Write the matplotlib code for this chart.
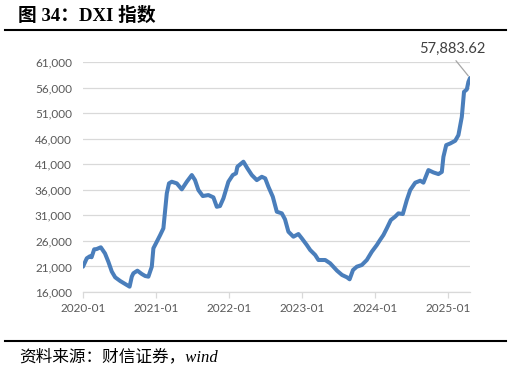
import matplotlib

matplotlib.use("Agg")
import matplotlib.pyplot as plt
import numpy as np
import pandas as pd
from matplotlib.lines import Line2D
from matplotlib.ticker import FuncFormatter

# DXI index, values
dates = [
    "2020-01-01", "2020-01-20", "2020-02-05", "2020-02-13", "2020-02-26", "2020-03-09",
    "2020-03-30", "2020-04-20", "2020-05-07", "2020-05-24", "2020-06-10", "2020-07-05",
    "2020-07-30", "2020-08-21", "2020-09-01", "2020-09-09", "2020-09-29", "2020-10-21",
    "2020-11-07", "2020-11-23", "2020-12-10", "2020-12-18", "2021-01-04", "2021-01-21",
    "2021-02-06", "2021-02-23", "2021-03-06", "2021-03-20", "2021-04-14", "2021-05-09",
    "2021-06-03", "2021-06-28", "2021-07-14", "2021-07-31", "2021-08-22", "2021-09-19",
    "2021-10-14", "2021-10-31", "2021-11-16", "2021-12-03", "2021-12-28", "2022-01-19",
    "2022-02-04", "2022-02-11", "2022-03-13", "2022-04-02", "2022-04-24", "2022-05-19",
    "2022-06-13", "2022-06-30", "2022-07-16", "2022-08-07", "2022-08-27", "2022-09-21",
    "2022-10-07", "2022-10-24", "2022-11-18", "2022-12-13", "2022-12-30", "2023-01-24",
    "2023-02-10", "2023-03-07", "2023-03-23", "2023-04-26", "2023-05-21", "2023-06-24",
    "2023-07-19", "2023-08-13", "2023-08-26", "2023-09-12", "2023-10-01", "2023-10-26",
    "2023-11-20", "2023-12-15", "2024-01-09", "2024-01-25", "2024-02-11", "2024-02-28",
    "2024-03-19", "2024-04-09", "2024-04-26", "2024-05-18", "2024-06-07", "2024-06-24",
    "2024-07-19", "2024-08-13", "2024-08-29", "2024-09-23", "2024-10-18", "2024-11-12",
    "2024-11-29", "2024-12-07", "2024-12-21", "2025-01-10", "2025-02-04", "2025-02-20",
    "2025-03-09", "2025-03-20", "2025-04-03", "2025-04-11", "2025-04-19",
]
dxi = [
    20950, 22600, 23000, 22800, 24350, 24400,
    24750, 23550, 21900, 20000, 18870, 18150,
    17560, 17040, 19000, 19660, 20170, 19520,
    19130, 19000, 20950, 24550, 25840, 27150,
    28460, 35300, 37260, 37580, 37260, 36090,
    37580, 38890, 37900, 35950, 34780, 34970,
    34520, 32680, 32820, 34320, 37580, 38890,
    39220, 40520, 41500, 40200, 38890, 37900,
    38550, 38240, 36600, 34640, 31710, 31390,
    30220, 27800, 26820, 27340, 26500, 25190,
    24210, 23240, 22260, 22260, 21610, 20170,
    19330, 18870, 18480, 20300, 20950, 21280,
    22260, 23880, 25190, 26170, 27150, 28460,
    30080, 30730, 31390, 31260, 34000, 35950,
    37390, 37780, 37400, 39860, 39400, 39080,
    39500, 42460, 44750, 45070, 45600, 46710,
    50290, 55180, 55640, 57130, 57883.62,
]
year_ticks = ["2020-01", "2021-01", "2022-01", "2023-01", "2024-01", "2025-01"]
y_ticks = [16000, 21000, 26000, 31000, 36000, 41000, 46000, 51000, 56000, 61000]

x = pd.to_datetime(dates)
tick_dates = pd.to_datetime([t + "-01" for t in year_ticks])

grey_text = "#595959"
grid_col = "#d9d9d9"

fig = plt.figure(figsize=(5.11, 3.74), dpi=100)
ax = fig.add_axes([0.1624, 0.2193, 0.7574, 0.6147])

ax.plot(x, dxi, color="#4a7ebb", lw=2.9, solid_capstyle="round", solid_joinstyle="round")

ax.set_ylim(y_ticks[0], y_ticks[-1])
ax.set_yticks(y_ticks)
ax.yaxis.set_major_formatter(FuncFormatter(lambda v, p: f"{v:,.0f}"))
ax.set_xlim(tick_dates[0], x[-1])
ax.set_xticks(tick_dates)
ax.set_xticklabels(year_ticks)

ax.grid(axis="y", color=grid_col, lw=0.9)
ax.set_axisbelow(True)
for s in ["left", "right", "top"]:
    ax.spines[s].set_visible(False)
ax.spines["bottom"].set_color(grid_col)
ax.spines["bottom"].set_linewidth(0.9)
ax.tick_params(axis="y", length=0, pad=8, labelsize=8.5, labelcolor=grey_text)
ax.tick_params(axis="x", length=4, color=grid_col, width=0.9, pad=4, labelsize=8.5,
               labelcolor=grey_text)
for lab in ax.get_xticklabels() + ax.get_yticklabels():
    lab.set_family("Lato")

ax.annotate(f"{dxi[-1]:,.2f}", xy=(x[-1], dxi[-1]), xytext=(-13, 16),
            textcoords="offset points", ha="center", va="bottom",
            fontsize=10.5, color="#404040", family="Lato",
            arrowprops=dict(arrowstyle="-", color="#a6a6a6", lw=0.9,
                            relpos=(0.5, 0.0), shrinkA=2, shrinkB=2),
            annotation_clip=False)

# title and source
fig.text(0.035, 0.958, "图 34：DXI 指数", fontsize=13.5, fontweight="bold",
         family=["Liberation Serif", "Noto Sans CJK SC"], va="center", ha="left")
fig.text(0.038, 0.045, "资料来源：财信证券，wind", fontsize=12, style="italic",
         family=["Liberation Serif", "Noto Sans CJK SC"], va="center", ha="left")

fig.add_artist(Line2D([0.01, 0.99], [1 - 30 / 374] * 2, color="black", lw=1.5,
                      transform=fig.transFigure))
fig.add_artist(Line2D([0.01, 0.99], [1 - 341 / 374] * 2, color="black", lw=1.5,
                      transform=fig.transFigure))

fig.savefig("out.png", dpi=100)
